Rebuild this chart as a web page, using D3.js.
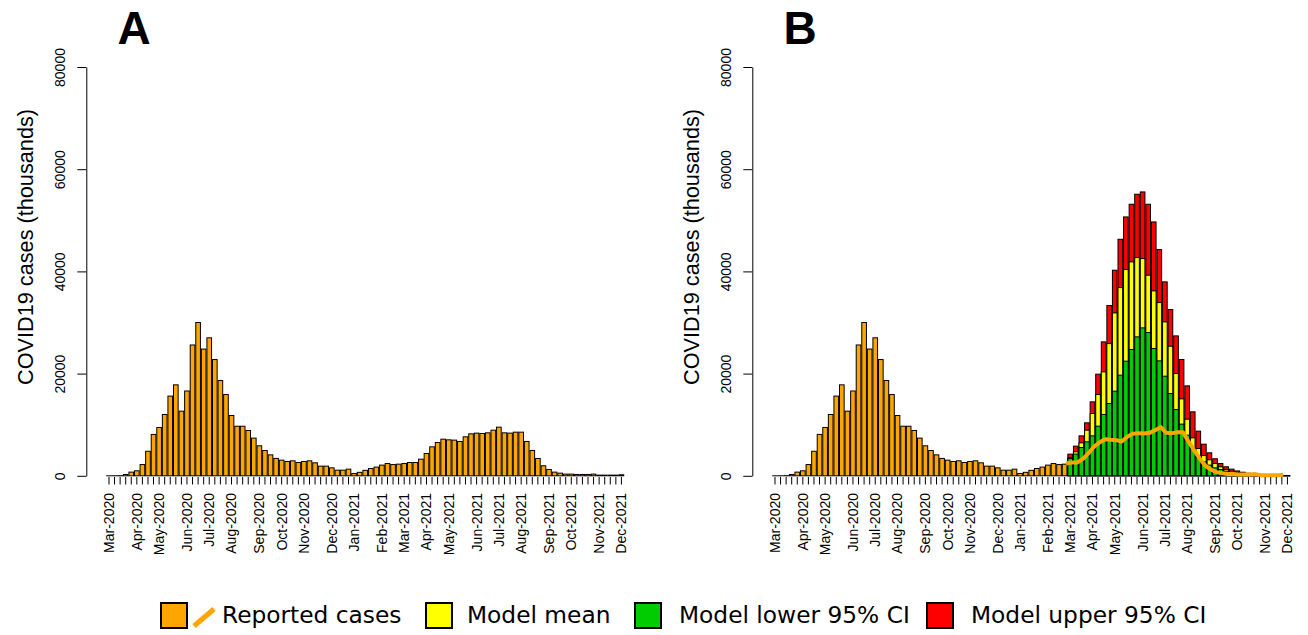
<!DOCTYPE html>
<html>
<head>
<meta charset="utf-8">
<script src="https://cdn.jsdelivr.net/npm/d3@7"></script>
<style>
body { margin: 0; background: #fff; }
svg { display: block; }
text { font-family: "Liberation Sans", Arial, sans-serif; fill: #000; }
.legend text { font-family: "DejaVu Sans", sans-serif; font-size: 23.3px; }
</style>
</head>
<body>
<svg width="1308" height="635"></svg>
<script>
let fmt = d3.timeFormat('%Y-%m-%d')

// weekly categories, Sunday starts
let weeks = d3.timeWeek.range(new Date(2020, 2, 1), new Date(2021, 11, 6)).map(fmt)

let reported = [
  0, 10, 30, 260, 720, 980, 2200, 4800, 8100, 9450,
  12000, 15600, 17800, 12650, 16600, 25600, 30000, 24800, 27000, 22750,
  18650, 15900, 11800, 9700, 9700, 8870, 7370, 5870, 4950, 4100,
  3400, 3060, 2800, 2930, 2600, 2800, 2930, 2540, 1890, 1890,
  1560, 1100, 1100, 1300, 460, 680, 1070, 1430, 1700, 2090,
  2400, 2200, 2280, 2400, 2600, 2600, 3260, 4370, 5670, 6520,
  7170, 7040, 6980, 6720, 7630, 8210, 8350, 8280, 8410, 8930,
  9520, 8410, 8350, 8540, 8540, 6720, 4960, 3390, 1960, 1240,
  720, 520, 330, 330, 260, 260, 260, 330, 130, 130,
  130, 130, 200
]

// model output starts at this week
let modelStart = '2021-03-07'

let modelUpper = [
  4240, 5800, 7820, 10370, 14470, 19890, 26210, 33320, 40230, 46290,
  50660, 53140, 55100, 55550, 53140, 49680, 44270, 37950, 32530, 27380,
  22750, 17600, 12520, 8740, 6190, 4500, 3330, 2410, 1760, 1300,
  950, 700, 500, 350, 250, 180, 130, 90, 60, 40
]
let modelMean = [
  3590, 4700, 6450, 8930, 12190, 15910, 20340, 25880, 31880, 36840,
  40360, 41860, 42710, 42510, 39250, 36190, 33900, 30120, 25360, 20020,
  15060, 11080, 7430, 5350, 3980, 3130, 2410, 1760, 1240, 900,
  650, 480, 340, 240, 170, 120, 90, 60, 40, 30
]
let modelLower = [
  3390, 4240, 5540, 6650, 7820, 9710, 12000, 14150, 16560, 19690,
  22430, 24710, 27190, 28950, 28040, 24910, 22490, 19490, 16100, 12970,
  10110, 7950, 5350, 3590, 2740, 2090, 1560, 1240, 910, 650,
  450, 330, 230, 160, 110, 80, 60, 40, 30, 20
]

let monthTicks = [
  '2020-03-01', '2020-04-05', '2020-05-03', '2020-06-07', '2020-07-05', '2020-08-02',
  '2020-09-06', '2020-10-04', '2020-11-01', '2020-12-06', '2021-01-03', '2021-02-07',
  '2021-03-07', '2021-04-04', '2021-05-02', '2021-06-06', '2021-07-04', '2021-08-01',
  '2021-09-05', '2021-10-03', '2021-11-07', '2021-12-05'
]
let monthLabels = [
  'Mar-2020', 'Apr-2020', 'May-2020', 'Jun-2020', 'Jul-2020', 'Aug-2020',
  'Sep-2020', 'Oct-2020', 'Nov-2020', 'Dec-2020', 'Jan-2021', 'Feb-2021',
  'Mar-2021', 'Apr-2021', 'May-2021', 'Jun-2021', 'Jul-2021', 'Aug-2021',
  'Sep-2021', 'Oct-2021', 'Nov-2021', 'Dec-2021'
]
let yTicks = [0, 20000, 40000, 60000, 80000]

let legendItems = [
  {label: 'Reported cases', fill: 'orange', x: 161, tx: 222, line: true},
  {label: 'Model mean', fill: '#ffff00', x: 426, tx: 467},
  {label: 'Model lower 95% CI', fill: '#00cd00', x: 635, tx: 679},
  {label: 'Model upper 95% CI', fill: '#ff0000', x: 927, tx: 971}
]

let svg = d3.select('svg')

let x = d3.scaleBand()
  .domain(weeks)
  .range([106.2, 624.2])
  .paddingInner(1 / 6)
  .paddingOuter(1 / 12)

let y = d3.scaleLinear()
  .domain([0, 80000])
  .range([475.8, 67])

let mid = w => x(w) + x.bandwidth() / 2
let startIdx = weeks.indexOf(modelStart)

function drawPanel(letter, dx, withModel) {
  let g = svg.append('g').attr('transform', `translate(${dx},0)`)

  g.append('text')
    .attr('x', 134)
    .attr('y', 44)
    .attr('text-anchor', 'middle')
    .style('font-size', '46px')
    .style('font-weight', 'bold')
    .text(letter)

  // y axis
  let yAxis = g.append('g')
    .attr('transform', 'translate(86.3,0)')
    .call(d3.axisLeft(y).tickValues(yTicks).tickSize(9).tickSizeOuter(0).tickFormat(d3.format('d')))
  yAxis.select('.domain').attr('stroke', '#000')
  yAxis.selectAll('.tick line').attr('stroke', '#000')
  yAxis.selectAll('.tick text')
    .attr('x', null)
    .attr('dy', null)
    .attr('text-anchor', 'middle')
    .attr('transform', 'translate(-21,0) rotate(-90)')
    .style('font-size', '14px')
    .style('font-family', '"Liberation Sans", Arial, sans-serif')

  g.append('text')
    .attr('transform', 'translate(33,247) rotate(-90)')
    .attr('text-anchor', 'middle')
    .style('font-size', '21.7px')
    .text('COVID19 cases (thousands)')

  // reported bars
  let barWeeks = withModel ? weeks.slice(0, startIdx) : weeks
  g.selectAll('.rep')
    .data(barWeeks)
    .enter()
    .append('rect')
    .attr('x', w => x(w))
    .attr('width', x.bandwidth())
    .attr('y', (w, i) => y(reported[i]))
    .attr('height', (w, i) => Math.max(0.01, y(0) - y(reported[i])))
    .attr('fill', 'orange')
    .attr('stroke', '#000')
    .attr('stroke-width', 1)

  if (withModel) {
    let mWeeks = weeks.slice(startIdx)
    let layers = [[modelUpper, '#ff0000'], [modelMean, '#ffff00'], [modelLower, '#00cd00']]
    layers.forEach(([vals, col]) => {
      g.append('g').selectAll('rect')
        .data(mWeeks)
        .enter()
        .append('rect')
        .attr('x', w => x(w))
        .attr('width', x.bandwidth())
        .attr('y', (w, i) => y(vals[i]))
        .attr('height', (w, i) => Math.max(0.01, y(0) - y(vals[i])))
        .attr('fill', col)
        .attr('stroke', '#000')
        .attr('stroke-width', 1)
    })

    let line = d3.line()
      .x(w => mid(w) - 0.75 * x.step())
      .y(w => y(reported[weeks.indexOf(w)]))
    g.append('path')
      .datum(mWeeks)
      .attr('d', line)
      .attr('fill', 'none')
      .attr('stroke', 'orange')
      .attr('stroke-width', 4)
      .attr('stroke-linejoin', 'round')
  }

  // x ticks, one per week
  g.selectAll('.xtick')
    .data(weeks)
    .enter()
    .append('line')
    .attr('x1', mid)
    .attr('x2', mid)
    .attr('y1', 477)
    .attr('y2', 484.5)
    .attr('stroke', '#000')
    .attr('stroke-width', 1)

  g.selectAll('.xlab')
    .data(monthTicks)
    .enter()
    .append('text')
    .attr('transform', w => `translate(${mid(w)},493) rotate(-90)`)
    .attr('text-anchor', 'end')
    .attr('dy', '0.35em')
    .style('font-size', '14px')
    .text((w, i) => monthLabels[i])
}

drawPanel('A', 0, false)
drawPanel('B', 666, true)

// legend
let legend = svg.append('g').classed('legend', true)
legendItems.forEach(d => {
  legend.append('rect')
    .attr('x', d.x)
    .attr('y', 603)
    .attr('width', 26)
    .attr('height', 25)
    .attr('fill', d.fill)
    .attr('stroke', '#000')
    .attr('stroke-width', 2)
  if (d.line) {
    legend.append('line')
      .attr('x1', 194).attr('y1', 626)
      .attr('x2', 214).attr('y2', 609)
      .attr('stroke', 'orange')
      .attr('stroke-width', 5)
  }
  legend.append('text')
    .attr('x', d.tx)
    .attr('y', 623)
    .text(d.label)
})
</script>
</body>
</html>
